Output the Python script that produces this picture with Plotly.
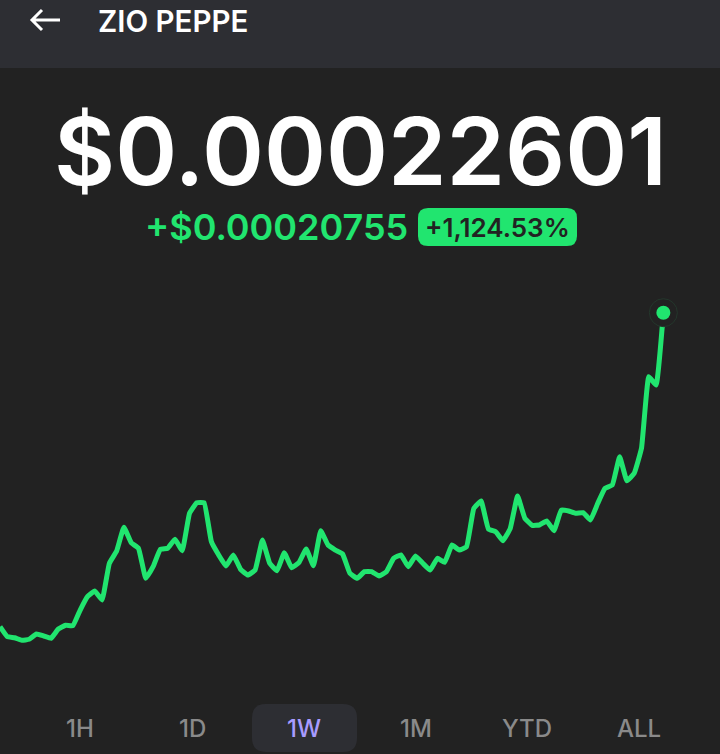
# plot.py
# ZIO PEPPE price screen, 1W view
import plotly.graph_objects as go

# price over the week, in units of $0.00000001
prices = [
    1846, 1185, 1118, 947, 1013, 1363, 1231, 1079, 1694, 1938,
    1912, 2949, 3829, 4205, 3610, 6036, 6849, 8416, 7398, 7028,
    5045, 5812, 6962, 7028, 7623, 6869, 9341, 10042, 10042, 7464,
    6585, 5858, 6585, 5640, 5263, 5593, 7576, 6036, 5547, 6737,
    5745, 6076, 6982, 5878, 8191, 7246, 6915, 6651, 5375, 5045,
    5481, 5481, 5197, 5481, 6367, 6585, 5812, 6519, 6036, 5593,
    6367, 6102, 7246, 6915, 7134, 9672, 10154, 8304, 8125, 7530,
    8350, 10485, 9011, 8548, 8568, 8832, 8191, 9559, 9493, 9341,
    9381, 8898, 10002, 10994, 11212, 13083, 11496, 11985, 13638, 18371,
    17822, 22601,
]
steps = list(range(len(prices)))
ranges = ["1H", "1D", "1W", "1M", "YTD", "ALL"]
active_range = "1W"

coin_name = "ZIO PEPPE"
price_label = "$0.00022601"
change_label = "+$0.00020755"
pct_label = "+1,124.53%"

W, H = 720, 754
BG = "#222222"
PANEL = "#2d2e33"
GREEN = "#21e56f"
FONT = "Inter"


def px(x):
    return x / W


def py(y):
    return 1 - y / H


def round_rect(x0, y0, x1, y1, r):
    # rounded box as an svg path, paper coords
    return (
        f"M{px(x0 + r)},{py(y0)} L{px(x1 - r)},{py(y0)} "
        f"Q{px(x1)},{py(y0)} {px(x1)},{py(y0 + r)} "
        f"L{px(x1)},{py(y1 - r)} Q{px(x1)},{py(y1)} {px(x1 - r)},{py(y1)} "
        f"L{px(x0 + r)},{py(y1)} Q{px(x0)},{py(y1)} {px(x0)},{py(y1 - r)} "
        f"L{px(x0)},{py(y0 + r)} Q{px(x0)},{py(y0)} {px(x0 + r)},{py(y0)} Z"
    )


def label(text, x, y, size, color, weight=600, anchor="center"):
    return dict(
        text=text, x=px(x), y=py(y), xref="paper", yref="paper",
        xanchor=anchor, yanchor="middle", showarrow=False,
        font=dict(family=FONT, size=size, color=color, weight=weight),
    )


fig = go.Figure()
fig.add_trace(go.Scatter(
    x=steps, y=prices, mode="lines",
    line=dict(color=GREEN, width=5, shape="spline", smoothing=0.3),
    hoverinfo="skip", showlegend=False,
))
# halo + dot on the latest price
fig.add_trace(go.Scatter(
    x=steps[-1:], y=prices[-1:], mode="markers",
    marker=dict(size=28, color=BG, line=dict(color="#24372c", width=1)),
    hoverinfo="skip", showlegend=False,
))
fig.add_trace(go.Scatter(
    x=steps[-1:], y=prices[-1:], mode="markers",
    marker=dict(size=14, color=GREEN),
    hoverinfo="skip", showlegend=False,
))

shapes = [
    dict(type="rect", xref="paper", yref="paper", layer="below",
         x0=0, x1=1, y0=py(68), y1=1, fillcolor=PANEL, line_width=0),
    dict(type="path", xref="paper", yref="paper", layer="below",
         path=round_rect(418, 208, 577, 246, 10), fillcolor=GREEN, line_width=0),
    dict(type="path", xref="paper", yref="paper", layer="below",
         path=round_rect(252, 704, 357, 752, 14), fillcolor=PANEL, line_width=0),
    # back arrow
    dict(type="path", xref="paper", yref="paper",
         path=f"M{px(60)},{py(20)} L{px(32)},{py(20)} M{px(42)},{py(10)} "
              f"L{px(32)},{py(20)} L{px(42)},{py(30)}",
         line=dict(color="white", width=3)),
]

annotations = [
    label(coin_name, 96, 21, 29.5, "white", anchor="left"),
    label(price_label, 360, 151, 94, "white"),
    label(change_label, 276, 227, 36, GREEN),
    label(pct_label, 497, 227, 26, BG),
]
range_x = [80, 192, 304, 416, 527, 639]
for name, x in zip(ranges, range_x):
    color = "#a89bff" if name == active_range else "#8a8a8a"
    annotations.append(label(name, x, 728, 24, color, weight=500))

fig.update_layout(
    width=W, height=H,
    margin=dict(l=0, r=0, t=0, b=0),
    paper_bgcolor=BG, plot_bgcolor="rgba(0,0,0,0)",
    xaxis=dict(visible=False, range=[0, 98.77]),
    yaxis=dict(visible=False, range=[-6569, 43271]),
    shapes=shapes,
    annotations=annotations,
    hovermode=False,
)

fig.write_html("out.html", config={"displayModeBar": False},
               post_script="document.body.style.margin='0';")
